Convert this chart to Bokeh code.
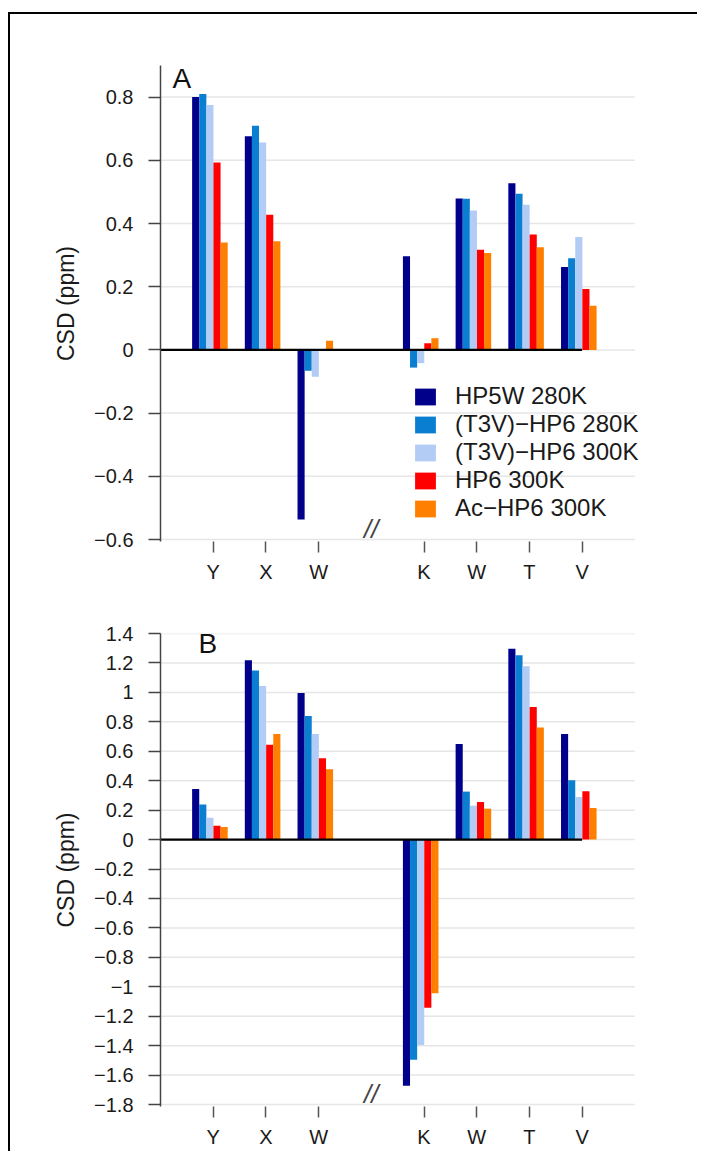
from bokeh.plotting import figure
from bokeh.models import FixedTicker, Legend, LegendItem, Label, Range1d
from bokeh.layouts import column
from bokeh.embed import file_html
from bokeh.resources import INLINE

# ---------------- data ----------------
residue_pos = [1, 2, 3, 5, 6, 7, 8]
residue_labels = ["Y", "X", "W", "K", "W", "T", "V"]
break_pos = 4
series_names = ["HP5W 280K", "(T3V)\u2212HP6 280K", "(T3V)\u2212HP6 300K",
                "HP6 300K", "Ac\u2212HP6 300K"]

# Panel A
a_hp5w_280 = [0.800, 0.676, -0.537, 0.296, 0.479, 0.527, 0.262]
a_t3v_280 = [0.810, 0.709, -0.066, -0.056, 0.478, 0.494, 0.290]
a_t3v_300 = [0.775, 0.656, -0.085, -0.042, 0.441, 0.459, 0.357]
a_hp6_300 = [0.593, 0.428, 0.000, 0.021, 0.317, 0.365, 0.193]
a_ac_300 = [0.340, 0.344, 0.029, 0.037, 0.307, 0.325, 0.140]

# Panel B
b_hp5w_280 = [0.344, 1.218, 0.995, -1.672, 0.649, 1.297, 0.717]
b_t3v_280 = [0.239, 1.149, 0.840, -1.496, 0.326, 1.252, 0.403]
b_t3v_300 = [0.148, 1.044, 0.717, -1.395, 0.230, 1.177, 0.289]
b_hp6_300 = [0.094, 0.644, 0.553, -1.143, 0.255, 0.901, 0.328]
b_ac_300 = [0.085, 0.717, 0.478, -1.045, 0.210, 0.762, 0.214]

yticks_a = [-0.6, -0.4, -0.2, 0, 0.2, 0.4, 0.6, 0.8]
yticks_b = [-1.8, -1.6, -1.4, -1.2, -1, -0.8, -0.6, -0.4, -0.2, 0,
            0.2, 0.4, 0.6, 0.8, 1, 1.2, 1.4]

# ---------------- style ----------------
colors = ["#00008B", "#0A7ED0", "#B3CCF6", "#FF0000", "#FF8000"]
FONT = "Liberation Sans"
W = 687
X_END = 10.0        # frame extent (data units)
GRID_END = 9.0      # gridlines stop here
PX_PER_UNIT = 52.67
BAR_W = 0.135
GROUP_START = -0.4
TICK_GAP_PX = 2     # frame bottom sits just below the lowest y tick


def fmt(v):
    s = ("%.1f" % v).rstrip("0").rstrip(".")
    if s in ("-0", ""):
        s = "0"
    return s.replace("-", "\u2212")


def make_panel(series, y_lo, y_hi, yticks, letter, lx, ly, frame_h, top, bottom):
    frame_w = int(round(PX_PER_UNIT * X_END))
    px_per_y = (frame_h - TICK_GAP_PX) / (y_hi - y_lo)
    y_start = y_lo - TICK_GAP_PX / px_per_y
    p = figure(width=W, height=top + frame_h + bottom,
               x_range=Range1d(0, X_END), y_range=Range1d(y_start, y_hi),
               output_backend="svg", toolbar_location=None,
               min_border_left=150, min_border_right=W - 150 - frame_w,
               min_border_top=top, min_border_bottom=bottom)
    p.outline_line_color = None
    p.background_fill_color = "white"
    p.border_fill_color = "white"

    # horizontal gridlines, from the axis to GRID_END
    p.xgrid.visible = False
    p.ygrid.visible = False
    p.segment(x0=[0] * len(yticks), y0=yticks, x1=[GRID_END] * len(yticks), y1=yticks,
              line_color="#e6e6e6", line_width=1.5, level="underlay")

    renderers = []
    for i, vals in enumerate(series):
        off = GROUP_START + BAR_W * (i + 0.5)
        xs = [x + off for x in residue_pos]
        r = p.vbar(x=xs, top=vals, bottom=0, width=BAR_W, fill_color=colors[i],
                   line_color=None)
        renderers.append(r)

    # zero line from axis to last residue
    p.segment(x0=[0], y0=[0], x1=[residue_pos[-1]], y1=[0],
              line_color="black", line_width=2.2)

    # y axis
    ya = p.yaxis[0]
    ya.ticker = FixedTicker(ticks=yticks)
    ya.major_label_overrides = {t: fmt(t) for t in yticks}
    ya.axis_line_color = "#444444"
    ya.axis_line_width = 1.5
    ya.major_tick_line_color = "#444444"
    ya.major_tick_line_width = 1.5
    ya.major_tick_out = 12
    ya.major_tick_in = 0
    ya.minor_tick_line_color = None
    ya.major_label_standoff = 15
    ya.major_label_text_font = FONT
    ya.major_label_text_font_size = "20px"
    ya.major_label_text_color = "#1a1a1a"
    ya.axis_label = "CSD (ppm)"
    ya.axis_label_text_font = FONT
    ya.axis_label_text_font_size = "23px"
    ya.axis_label_text_font_style = "normal"
    ya.axis_label_text_color = "#1a1a1a"
    ya.axis_label_standoff = 12

    # x axis: no line, ticks hanging below the frame
    xa = p.xaxis[0]
    xa.ticker = FixedTicker(ticks=residue_pos)
    xa.major_label_overrides = {x: l for x, l in zip(residue_pos, residue_labels)}
    xa.axis_line_color = None
    xa.major_tick_line_color = "#555555"
    xa.major_tick_line_width = 1.5
    xa.major_tick_out = 11
    xa.major_tick_in = 0
    xa.minor_tick_line_color = None
    xa.major_label_standoff = 8
    xa.major_label_text_font = FONT
    xa.major_label_text_font_size = "20px"
    xa.major_label_text_color = "#1a1a1a"

    # axis break mark, just above the frame bottom
    p.add_layout(Label(x=break_pos, y=y_lo + 11 / px_per_y, text="//", text_font=FONT,
                       text_font_size="26px", text_align="center",
                       text_baseline="middle", text_color="#444444",
                       text_font_style="italic"))

    # panel letter (frame-relative screen units)
    p.add_layout(Label(x=lx, y=ly, x_units="screen", y_units="screen", text=letter,
                       text_font=FONT, text_font_size="28px",
                       text_baseline="alphabetic", text_color="#111111"))
    return p, renderers


pA, rA = make_panel([a_hp5w_280, a_t3v_280, a_t3v_300, a_hp6_300, a_ac_300],
                    -0.6, 0.9, yticks_a, "A", 12, 463, 476, 51, 59)

legend = Legend(items=[LegendItem(label=n, renderers=[r]) for n, r in zip(series_names, rA)],
                location=(252, 19), orientation="vertical",
                background_fill_alpha=0, border_line_color=None,
                padding=0, margin=0, spacing=0,
                glyph_width=26, glyph_height=21, label_height=21,
                label_standoff=17, label_text_font=FONT,
                label_text_font_size="24px", label_text_color="#1a1a1a")
pA.add_layout(legend)

pB, rB = make_panel([b_hp5w_280, b_t3v_280, b_t3v_300, b_hp6_300, b_ac_300],
                    -1.8, 1.4, yticks_b, "B", 38, 463, 473, 33, 45)

layout = column(pA, pB, styles={"border-top": "2px solid black",
                                "border-left": "2px solid black",
                                "margin-top": "12px",
                                "margin-left": "8px"})

open("out.html", "w").write(file_html(layout, INLINE))
